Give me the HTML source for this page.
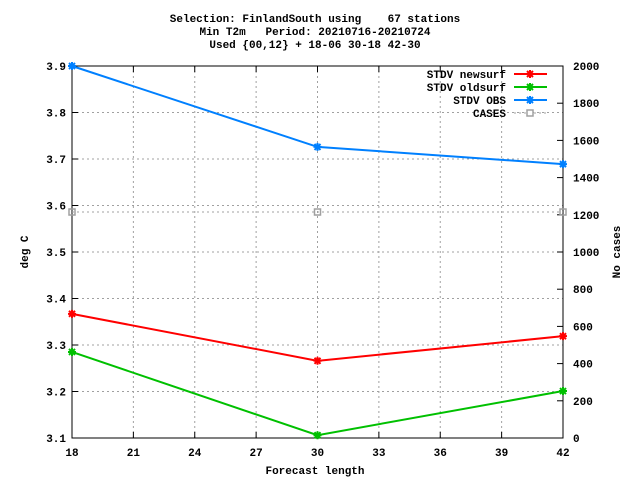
<!DOCTYPE html>
<html><head><meta charset="utf-8"><style>
body{margin:0;background:#fff;}
svg text{font-family:"Liberation Mono",monospace;font-size:11px;font-weight:bold;fill:#000;}
.pre{white-space:pre;}
</style></head><body>
<svg id="chart" width="640" height="480" xmlns="http://www.w3.org/2000/svg">
<g>
<text class="pre" x="315" y="22" text-anchor="middle" xml:space="preserve">Selection: FinlandSouth using    67 stations</text>
<text class="pre" x="315" y="35" text-anchor="middle" xml:space="preserve">Min T2m   Period: 20210716-20210724</text>
<text class="pre" x="315" y="48" text-anchor="middle">Used {00,12} + 18-06 30-18 42-30</text>
</g>
<g id="grid"></g>
<g id="axes"></g>
<g id="series"></g>
<g id="legend"></g>
<text x="315" y="474" text-anchor="middle">Forecast length</text>
<text transform="translate(28,252) rotate(-90)" text-anchor="middle">deg C</text>
<text transform="translate(620,252) rotate(-90)" text-anchor="middle">No cases</text>
</svg>
<script>
const xCats=[18,30,42];
const newsurf=[3.367,3.266,3.319];
const oldsurf=[3.285,3.106,3.201];
const obs=[3.90,3.726,3.689];
const cases=[1215,1215,1215];
const xTicks=[18,21,24,27,30,33,36,39,42];
const yTicks=[3.1,3.2,3.3,3.4,3.5,3.6,3.7,3.8,3.9];
const y2Ticks=[0,200,400,600,800,1000,1200,1400,1600,1800,2000];
const L=72,R=563,T=66,B=438;
const NS='http://www.w3.org/2000/svg';
const sx=v=>L+(v-18)/(42-18)*(R-L);
const sy=v=>B-(v-3.1)/(3.9-3.1)*(B-T);
const sy2=v=>B-v/2000*(B-T);
function mk(tag,attrs,parent,txt){const e=document.createElementNS(NS,tag);for(const k in attrs)e.setAttribute(k,attrs[k]);if(txt!==undefined)e.textContent=txt;parent.appendChild(e);return e;}
const grid=document.getElementById('grid'),axes=document.getElementById('axes'),ser=document.getElementById('series'),leg=document.getElementById('legend');
xTicks.forEach(t=>{const x=sx(t);
 if(t!==18&&t!==42){const g=mk('line',{x1:x,x2:x,y1:T,y2:B,stroke:'#a0a0a0','stroke-dasharray':'2,3'},grid);}
 mk('line',{x1:x,x2:x,y1:B,y2:B-6,stroke:'#000'},axes);mk('line',{x1:x,x2:x,y1:T,y2:T+6,stroke:'#000'},axes);
 const l=mk('text',{x:x,y:B+18,'text-anchor':'middle'},axes,t);});
yTicks.forEach(t=>{const y=sy(t);
 if(t!==3.1&&t!==3.9){const g=mk('line',{x1:L,x2:R,y1:y,y2:y,stroke:'#a0a0a0','stroke-dasharray':'2,3'},grid);}
 mk('line',{x1:L,x2:L+6,y1:y,y2:y,stroke:'#000'},axes);
 const l=mk('text',{x:L-6,y:y+4,'text-anchor':'end'},axes,t.toFixed(1));});
y2Ticks.forEach(t=>{const y=sy2(t);
 mk('line',{x1:R,x2:R-6,y1:y,y2:y,stroke:'#000'},axes);
 const l=mk('text',{x:R+10,y:y+4,'text-anchor':'start'},axes,t);});
const fr=mk('rect',{x:L,y:T,width:R-L,height:B-T,fill:'none',stroke:'#000'},axes);
function star(x,y,c,p){mk('path',{d:`M${x-4},${y}H${x+4}M${x},${y-4}V${y+4}M${x-3},${y-3}L${x+3},${y+3}M${x-3},${y+3}L${x+3},${y-3}`,stroke:c,'stroke-width':2,fill:'none'},p);}
function series(vals,c,name,f){const pts=vals.map((v,i)=>[sx(xCats[i]),f(v)]);
 const pl=mk('polyline',{points:pts.map(p=>p.join(',')).join(' '),fill:'none',stroke:c,'stroke-width':2},ser);
 
 pts.forEach(p=>star(p[0],p[1],c,ser));}
series(newsurf,'#ff0000','line-newsurf',sy);
series(oldsurf,'#00c000','line-oldsurf',sy);
series(obs,'#0080ff','line-obs',sy);
const cp=cases.map((v,i)=>[sx(xCats[i]),sy2(v)]);
const cl=mk('polyline',{points:cp.map(p=>p.join(',')).join(' '),fill:'none',stroke:'#a0a0a0','stroke-dasharray':'2,3'},ser);

cp.forEach(p=>mk('rect',{x:p[0]-3,y:p[1]-3,width:6,height:6,fill:'none',stroke:'#a0a0a0','stroke-width':1.5},ser));
const entries=[['STDV newsurf','#ff0000',0],['STDV oldsurf','#00c000',0],['STDV OBS','#0080ff',0],['CASES','#a0a0a0',1]];
entries.forEach((e,i)=>{const y=74+i*13;const g=mk('g',{},leg);
 
 mk('text',{x:506,y:y+4,'text-anchor':'end'},g,e[0]);
 if(e[2]){mk('line',{x1:514,x2:547,y1:y,y2:y,stroke:e[1],'stroke-dasharray':'2,3'},g);mk('rect',{x:527,y:y-3,width:6,height:6,fill:'#fff',stroke:e[1],'stroke-width':1.5},g);}
 else{mk('line',{x1:514,x2:547,y1:y,y2:y,stroke:e[1],'stroke-width':2},g);star(530,y,e[1],g);}});
</script>
</body></html>
